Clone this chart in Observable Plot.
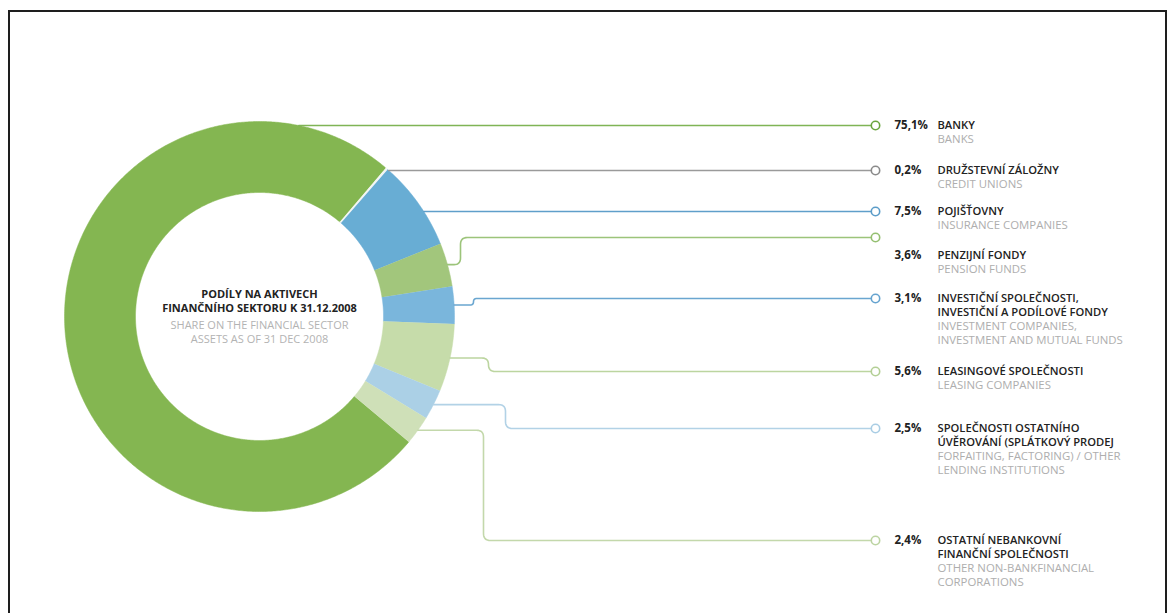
<!DOCTYPE html>
<html><head><meta charset="utf-8">
<script src="https://cdn.jsdelivr.net/npm/d3@7"></script>
<script src="https://cdn.jsdelivr.net/npm/@observablehq/plot@0.6"></script>
<style>
html,body{margin:0;padding:0;background:#fff;}
#wrap{position:relative;width:1171px;height:613px;overflow:hidden;}
#frame{position:absolute;left:8px;top:10px;width:1159px;height:640px;box-sizing:border-box;border:2px solid #1e1e1e;border-bottom:none;pointer-events:none;}
svg{display:block}
</style></head><body><div id="wrap"><div id="chart"></div><div id="frame"></div></div>
<script>
// ---- DATA ----
const categoriesCz = ["BANKY", "DRUŽSTEVNÍ ZÁLOŽNY", "POJIŠŤOVNY", "PENZIJNÍ FONDY",
  "INVESTIČNÍ SPOLEČNOSTI,\nINVESTIČNÍ A PODÍLOVÉ FONDY", "LEASINGOVÉ SPOLEČNOSTI",
  "SPOLEČNOSTI OSTATNÍHO\nÚVĚROVÁNÍ (SPLÁTKOVÝ PRODEJ", "OSTATNÍ NEBANKOVNÍ\nFINANČNÍ SPOLEČNOSTI"];
const categoriesEn = ["BANKS", "CREDIT UNIONS", "INSURANCE COMPANIES", "PENSION FUNDS",
  "INVESTMENT COMPANIES,\nINVESTMENT AND MUTUAL FUNDS", "LEASING COMPANIES",
  "FORFAITING, FACTORING) / OTHER\nLENDING INSTITUTIONS", "OTHER NON-BANKFINANCIAL\nCORPORATIONS"];
const shares = [75.1, 0.2, 7.5, 3.6, 3.1, 5.6, 2.5, 2.4];
const titleCz = ["PODÍLY NA AKTIVECH", "FINANČNÍHO SEKTORU K 31.12.2008"];
const titleEn = ["SHARE ON THE FINANCIAL SECTOR", "ASSETS AS OF 31 DEC 2008"];

// ---- STYLE ----
const sliceColors = ["#84b651", "#f3f6f4", "#68add4", "#a2c67c", "#7ab6dc", "#c6dcaa", "#abd0e6", "#cfe0b8"];
const lineColors  = ["#7fb456", "#9a9a9a", "#5f9fca", "#9cc47a", "#6aa6d0", "#bcd5a0", "#b2d2e6", "#c3d8ab"];
const dotColors   = ["#6aa53f", "#8a8a8a", "#5b9cc8", "#94bf70", "#65a3cf", "#b3cf95", "#a9cde4", "#bcd4a2"];

// ---- LAYOUT ----
const W = 1171, H = 613;
const cx = 259, cy = 316, R = 195, r0 = 124;
const rotation = 130 * Math.PI / 180;
const dotX = 875, pctX = 894, labelX = 937, lineStep = 14;
const lineY = [125, 170, 211, 237, 298, 371, 428, 540];
const textY = [125, 170, 211, 255, 298, 371, 428, 540];
const bendX = [null, null, null, 460, 473, 488, 505, 483];

const pie = d3.pie().sort(null).value(d => d).startAngle(rotation).endAngle(rotation + 2 * Math.PI)(shares);

const slicePts = [];
pie.forEach((p, i) => {
  const n = Math.max(2, Math.ceil((p.endAngle - p.startAngle) / (Math.PI / 360)));
  for (let k = 0; k <= n; k++) {
    const a = p.startAngle + (p.endAngle - p.startAngle) * k / n;
    slicePts.push({i, x: cx + R * Math.sin(a), y: cy - R * Math.cos(a), fill: sliceColors[i]});
  }
  for (let k = n; k >= 0; k--) {
    const a = p.startAngle + (p.endAngle - p.startAngle) * k / n;
    slicePts.push({i, x: cx + r0 * Math.sin(a), y: cy - r0 * Math.cos(a), fill: sliceColors[i]});
  }
});

function rounded(pts, rad) {
  const out = [pts[0]];
  for (let k = 1; k < pts.length - 1; k++) {
    const [ax, ay] = pts[k - 1], [px, py] = pts[k], [bx, by] = pts[k + 1];
    const la = Math.hypot(ax - px, ay - py), lb = Math.hypot(bx - px, by - py);
    if (la < 0.01 || lb < 0.01) { out.push(pts[k]); continue; }
    const rr = Math.min(rad, la / 2, lb / 2);
    const p1 = [px + (ax - px) / la * rr, py + (ay - py) / la * rr];
    const p2 = [px + (bx - px) / lb * rr, py + (by - py) / lb * rr];
    for (let t = 0; t <= 8; t++) {
      const s = t / 8;
      out.push([(1 - s) * (1 - s) * p1[0] + 2 * s * (1 - s) * px + s * s * p2[0],
                (1 - s) * (1 - s) * p1[1] + 2 * s * (1 - s) * py + s * s * p2[1]]);
    }
  }
  out.push(pts[pts.length - 1]);
  return out;
}

const connectors = [];
pie.forEach((p, i) => {
  const ly = lineY[i];
  let pts;
  if (bendX[i] == null) {
    const x0 = cx + Math.sqrt(Math.max(0, R * R - (ly - cy) ** 2));
    pts = [[x0, ly], [dotX, ly]];
  } else {
    const m = (p.startAngle + p.endAngle) / 2;
    const x0 = cx + R * Math.sin(m), y0 = cy - R * Math.cos(m);
    pts = [[x0, y0], [bendX[i], y0], [bendX[i], ly], [dotX, ly]];
  }
  rounded(pts, 7).forEach(([x, y]) => connectors.push({i, x, y, stroke: lineColors[i]}));
});

const idx = shares.map((_, i) => i);
const fmt = v => v.toFixed(1).replace(".", ",") + "%";

const labelLines = [];
idx.forEach(i => {
  const cz = categoriesCz[i].split("\n"), en = categoriesEn[i].split("\n");
  cz.forEach((t, k) => labelLines.push({t, y: textY[i] + k * lineStep, kind: "cz"}));
  en.forEach((t, k) => labelLines.push({t, y: textY[i] + (cz.length + k) * lineStep, kind: "en"}));
});

const titleLines = [
  ...titleCz.map((t, k) => ({t, y: 294 + k * 14, kind: "cz"})),
  ...titleEn.map((t, k) => ({t, y: 325 + k * 14, kind: "en"}))
];

const chart = Plot.plot({
  width: W, height: H, margin: 0,
  x: {domain: [0, W], range: [0, W], axis: null},
  y: {domain: [0, H], range: [0, H], axis: null},
  color: {type: "identity"},
  style: {fontFamily: "'Open Sans', sans-serif", background: "white", overflow: "visible"},
  marks: [
    Plot.line(slicePts, {x: "x", y: "y", z: "i", fill: "fill", stroke: "fill", strokeWidth: 0.5, curve: "linear"}),
    Plot.line(connectors, {x: "x", y: "y", z: "i", stroke: "stroke", strokeWidth: 1.6, curve: "linear"}),
    Plot.dot(idx, {x: () => dotX, y: i => lineY[i], r: 4.2, fill: "white", stroke: i => dotColors[i], strokeWidth: 1.6}),
    Plot.text(idx, {x: () => pctX, y: i => textY[i], text: i => fmt(shares[i]), textAnchor: "start", fontWeight: 700, fontSize: 11.5, fill: "#222"}),
    Plot.text(labelLines.filter(d => d.kind === "cz"), {x: () => labelX, y: "y", text: "t", textAnchor: "start", fontWeight: 600, fontSize: 11.2, fill: "#222"}),
    Plot.text(labelLines.filter(d => d.kind === "en"), {x: () => labelX, y: "y", text: "t", textAnchor: "start", fontWeight: 400, fontSize: 11.4, fill: "#aeaeae"}),
    Plot.text(titleLines.filter(d => d.kind === "cz"), {x: () => cx, y: "y", text: "t", textAnchor: "middle", fontWeight: 700, fontSize: 11, fill: "#222"}),
    Plot.text(titleLines.filter(d => d.kind === "en"), {x: () => cx, y: "y", text: "t", textAnchor: "middle", fontWeight: 400, fontSize: 11, fill: "#b3b3b3"})
  ]
});
document.getElementById("chart").appendChild(chart);
</script>
</body></html>
